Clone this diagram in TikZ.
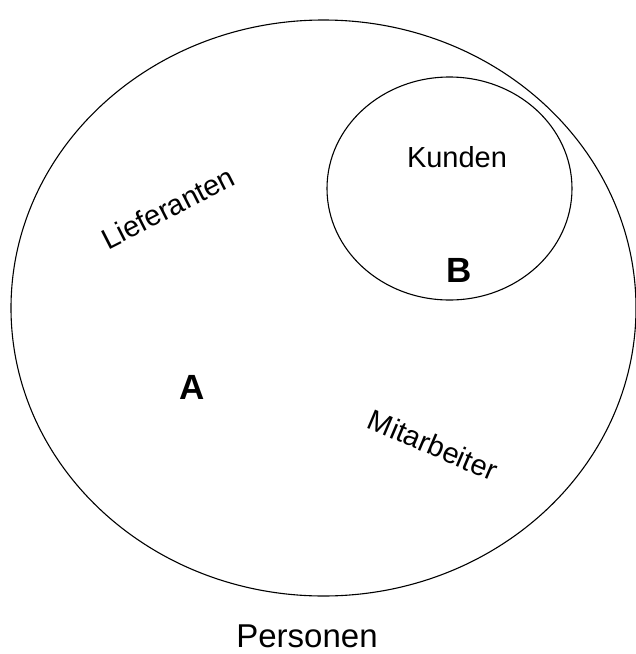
\documentclass[tikz,border=0pt]{standalone}
\usepackage{fontspec}
\setmainfont{Liberation Sans}

\tikzset{
  setname/.style={font=\fontsize{29}{34}\selectfont, inner sep=0pt},
  setletter/.style={font=\fontsize{35}{40}\selectfont\bfseries, inner sep=0pt},
}

\begin{document}
\begin{tikzpicture}[x=1pt, y=-1pt]
  \useasboundingbox (0,0) rectangle (636,654);
  \draw[line width=1.1pt] (323.5,308) ellipse [x radius=312.5, y radius=288];
  \draw[line width=1.1pt] (449.5,188.5) ellipse [x radius=122.5, y radius=111.5];
  \node[setname] (kunden) at (457,157) {Kunden};
  \node[setletter] (b) at (459,270) {B};
  \node[setname, rotate=27] (lief) at (168,208) {Lieferanten};
  \node[setletter] (a) at (192,387) {A};
  \node[setname, rotate=-23] (mitarb) at (433,445) {Mitarbeiter};
  \node[font=\fontsize{33}{38}\selectfont, inner sep=0pt] (pers) at (307,636) {Personen};
\end{tikzpicture}
\end{document}
